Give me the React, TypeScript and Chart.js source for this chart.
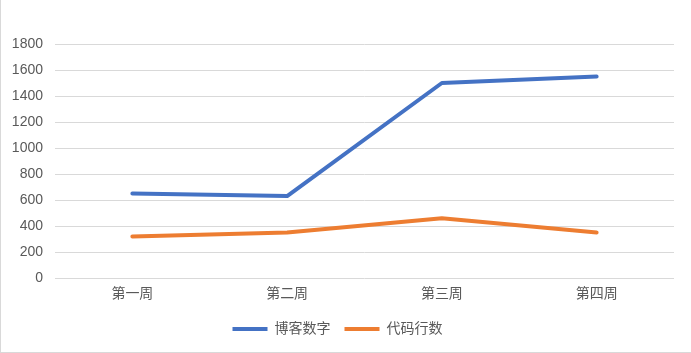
import React, { useEffect, useRef } from "react";
import { Chart, registerables } from "chart.js";

Chart.register(...registerables);

const categories = ["第一周", "第二周", "第三周", "第四周"];
const blogValues = [650, 630, 1500, 1550];
const codeValues = [320, 350, 460, 350];
const seriesNames = ["博客数字", "代码行数"];

const FONT = "'Liberation Sans', 'Noto Sans CJK SC', sans-serif";

export default function App() {
  const ref = useRef<HTMLCanvasElement | null>(null);
  useEffect(() => {
    document.body.style.margin = "0";
    if (!ref.current) return;
    const chart = new Chart(ref.current, {
      type: "line",
      data: {
        labels: categories,
        datasets: [
          {
            label: seriesNames[0],
            data: blogValues,
            borderColor: "#4472C4",
            backgroundColor: "#4472C4",
            borderWidth: 4,
            pointRadius: 0,
            borderCapStyle: "round",
            borderJoinStyle: "round",
          },
          {
            label: seriesNames[1],
            data: codeValues,
            borderColor: "#ED7D31",
            backgroundColor: "#ED7D31",
            borderWidth: 4,
            pointRadius: 0,
            borderCapStyle: "round",
            borderJoinStyle: "round",
          },
        ],
      },
      options: {
        animation: false,
        responsive: false,
        layout: { padding: { top: 44, right: 17, left: 0, bottom: 6 } },
        scales: {
          x: {
            offset: true,
            grid: { display: false },
            border: { display: false },
            ticks: { color: "#595959", font: { family: FONT, size: 14 }, padding: 0 },
            afterFit: (s: any) => {
              s.height = 30;
            },
          },
          y: {
            min: 0,
            max: 1800,
            ticks: {
              stepSize: 200,
              color: "#595959",
              font: { family: FONT, size: 14 },
              padding: 12,
              callback: (v: any) => String(v),
            },
            grid: { color: "#d9d9d9", lineWidth: 1, drawTicks: false },
            border: { display: false },
            afterFit: (s: any) => {
              s.width = 54;
            },
          },
        },
        plugins: {
          legend: {
            position: "bottom",
            labels: {
              boxWidth: 35,
              boxHeight: 4,
              color: "#595959",
              font: { family: FONT, size: 14 },
              padding: 14,
              generateLabels: (c: any) => {
                const items = Chart.defaults.plugins.legend.labels.generateLabels(c);
                items.forEach((it: any) => {
                  it.lineWidth = 0;
                  it.strokeStyle = "rgba(0,0,0,0)";
                });
                return items;
              },
            },
          },
          tooltip: { enabled: false },
        },
      },
    });
    return () => chart.destroy();
  }, []);
  return (
    <div
      style={{
        position: "absolute",
        left: 0,
        top: 0,
        width: 691,
        height: 353,
        boxSizing: "border-box",
        borderLeft: "1px solid #d9d9d9",
        borderBottom: "1px solid #d9d9d9",
        background: "#fff",
      }}
    >
      <canvas ref={ref} width={690} height={352} style={{ display: "block" }} />
    </div>
  );
}
